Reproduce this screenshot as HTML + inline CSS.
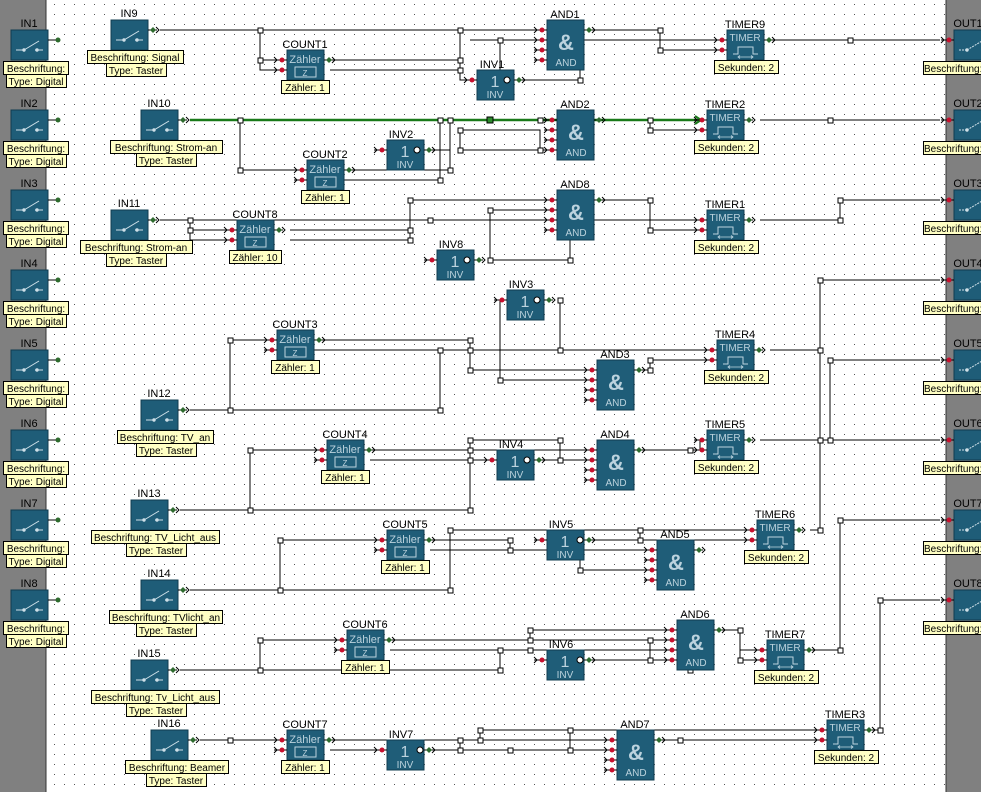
<!DOCTYPE html>
<html><head><meta charset="utf-8"><style>
html,body{margin:0;padding:0;background:#fff}
svg{display:block}
.b{fill:#1f5d78;stroke:#113c4f;stroke-width:1}
.w{stroke:#000;stroke-width:1;fill:none}
.j{fill:#fff;stroke:#000;stroke-width:1}
text{font-family:"Liberation Sans",sans-serif}
.n{font-size:11px;fill:#000;text-anchor:middle}
.l{font-size:10px;fill:#000;text-anchor:middle}
.y{fill:#ffffc4;stroke:#000;stroke-width:1}
.t{fill:#bcd3de;text-anchor:middle}
</style></head><body>
<svg width="981" height="792" viewBox="0 0 981 792" xmlns="http://www.w3.org/2000/svg">
<defs>
<pattern id="dots" width="10" height="10" patternUnits="userSpaceOnUse"><rect x="4" y="4" width="1" height="1" fill="#555"/></pattern>
<g id="pi"><path d="M-13,0H0" stroke="#000"/><path d="M-13,-3L-10,0L-13,3" stroke="#000" fill="none"/><circle cx="-5" cy="0" r="2.5" fill="#c8102e"/></g>
<g id="po"><path d="M0,0H9" stroke="#000"/><path d="M5,-3L8,0L5,3L2,0Z" fill="#2e6b2e"/><path d="M8,-3L11,0L8,3" stroke="#000" fill="none"/></g>
<g id="sw"><path d="M5,20H13M13,20L28,11M24,20H32" stroke="#cfe0e8" stroke-width="1" fill="none"/><circle cx="13" cy="20" r="1.7" fill="#cfe0e8"/><circle cx="26" cy="20" r="1.7" fill="#cfe0e8"/></g>
<g id="swo"><path d="M5,20H13M13,20L28,11M28,5V14" stroke="#cfe0e8" stroke-width="1" fill="none" stroke-dasharray="2,1"/><circle cx="13" cy="20" r="1.7" fill="#cfe0e8"/></g>
<g id="zb"><rect x="8" y="17" width="21" height="10" fill="none" stroke="#bcd3de"/></g>
<g id="tp"><path d="M6,24H11V17H26V24H31" stroke="#bcd3de" fill="none"/><path d="M11,27H26M13,25.5L11,27L13,28.5M24,25.5L26,27L24,28.5" stroke="#bcd3de" fill="none" stroke-width=".8"/></g>
</defs>
<rect width="981" height="792" fill="#fff"/>
<rect width="981" height="792" fill="url(#dots)"/>
<rect x="0" y="0" width="46" height="792" fill="#808080"/>
<rect x="946" y="0" width="35" height="792" fill="#808080"/>
<path d="M46,0V792M946,0V792" stroke="#333"/>

<g class="w">
<path d="M160,30H547M260,30V60H287M260,60V70H287M330,60H460M330,70H460V30M460,70V80H477M500,40V80H580V40M470,40H720M590,30H660V50H720M770,40H940"/>
<path d="M240,120V170H307M320,180H440V120M350,170H450V120M380,150H450M460,130H540V150M460,130V150H557M600,120H650V130H707M760,120H940"/>
<path d="M160,220H707M190,220V230H237M190,230V240H237M290,230H410M290,240H410V200H557M490,210H557M490,210V260H570V220M430,260H437M600,200H650V230H707M760,220H840V200H940"/>
<path d="M190,410H230M230,340H277M230,340V410H440V350M270,350H717M320,340H470V370H597M470,340V370M500,300V380H597M560,300V350M640,370H650V360H717M770,350H820V280H940"/>
<path d="M180,510H470V440M250,450H327M250,450V510M470,440H560V460M370,450H597M370,460H497M540,460H597M560,440V460M640,450H700V440H707M640,450H707M760,440H940M830,440V360H940"/>
<path d="M190,590H280M280,540H387M280,540V590H450V530M450,530H757M430,540H510V550M430,550H657M580,540H757M640,530V540M580,540V570H657M810,530H820V280M840,520H940M840,520V650H810"/>
<path d="M180,670H260M260,640H347M260,640V670H500V650M390,640H530V630H677M390,650H677M530,640H677M580,660H677M650,640V660M540,660H547M720,630H740V660H767M740,650H767M880,600H940M880,600V730H870"/>
<path d="M200,740H287M330,740H617M330,750H387M430,750H617M460,740V750M480,730V740M480,730H827M570,730V750M654,740H827"/>
</g>
<path d="M190,120H700" stroke="#1a7a1a" stroke-width="2.5"/>
<path d="M695,116L701,120L695,124" stroke="#1a7a1a" stroke-width="2" fill="none"/>
<rect x="487" y="117" width="6" height="6" fill="#2e8b2e" stroke="#000"/>

<g class="j">
<rect x="258" y="28" width="5" height="5"/><rect x="258" y="58" width="5" height="5"/><rect x="458" y="28" width="5" height="5"/><rect x="458" y="58" width="5" height="5"/><rect x="458" y="68" width="5" height="5"/><rect x="498" y="38" width="5" height="5"/><rect x="578" y="38" width="5" height="5"/><rect x="498" y="78" width="5" height="5"/><rect x="578" y="78" width="5" height="5"/><rect x="658" y="28" width="5" height="5"/><rect x="658" y="48" width="5" height="5"/><rect x="848" y="38" width="5" height="5"/>
<rect x="238" y="118" width="5" height="5"/><rect x="238" y="168" width="5" height="5"/><rect x="438" y="118" width="5" height="5"/><rect x="448" y="118" width="5" height="5"/><rect x="438" y="178" width="5" height="5"/><rect x="448" y="168" width="5" height="5"/><rect x="458" y="128" width="5" height="5"/><rect x="458" y="148" width="5" height="5"/><rect x="538" y="118" width="5" height="5"/><rect x="538" y="148" width="5" height="5"/><rect x="648" y="118" width="5" height="5"/><rect x="648" y="128" width="5" height="5"/><rect x="828" y="118" width="5" height="5"/>
<rect x="188" y="218" width="5" height="5"/><rect x="188" y="228" width="5" height="5"/><rect x="408" y="198" width="5" height="5"/><rect x="408" y="228" width="5" height="5"/><rect x="408" y="238" width="5" height="5"/><rect x="488" y="208" width="5" height="5"/><rect x="488" y="258" width="5" height="5"/><rect x="568" y="218" width="5" height="5"/><rect x="568" y="258" width="5" height="5"/><rect x="648" y="198" width="5" height="5"/><rect x="648" y="228" width="5" height="5"/><rect x="838" y="218" width="5" height="5"/><rect x="838" y="198" width="5" height="5"/><rect x="428" y="218" width="5" height="5"/>
<rect x="228" y="338" width="5" height="5"/><rect x="228" y="408" width="5" height="5"/><rect x="438" y="348" width="5" height="5"/><rect x="438" y="408" width="5" height="5"/><rect x="468" y="338" width="5" height="5"/><rect x="468" y="348" width="5" height="5"/><rect x="468" y="368" width="5" height="5"/><rect x="498" y="378" width="5" height="5"/><rect x="558" y="298" width="5" height="5"/><rect x="558" y="348" width="5" height="5"/><rect x="648" y="358" width="5" height="5"/><rect x="648" y="368" width="5" height="5"/><rect x="818" y="278" width="5" height="5"/><rect x="818" y="348" width="5" height="5"/><rect x="828" y="358" width="5" height="5"/>
<rect x="248" y="448" width="5" height="5"/><rect x="248" y="508" width="5" height="5"/><rect x="468" y="438" width="5" height="5"/><rect x="468" y="448" width="5" height="5"/><rect x="468" y="458" width="5" height="5"/><rect x="468" y="508" width="5" height="5"/><rect x="558" y="438" width="5" height="5"/><rect x="558" y="458" width="5" height="5"/><rect x="688" y="448" width="5" height="5"/><rect x="818" y="438" width="5" height="5"/><rect x="828" y="438" width="5" height="5"/>
<rect x="278" y="538" width="5" height="5"/><rect x="278" y="588" width="5" height="5"/><rect x="448" y="528" width="5" height="5"/><rect x="448" y="588" width="5" height="5"/><rect x="508" y="538" width="5" height="5"/><rect x="508" y="548" width="5" height="5"/><rect x="578" y="568" width="5" height="5"/><rect x="638" y="528" width="5" height="5"/><rect x="638" y="538" width="5" height="5"/><rect x="818" y="528" width="5" height="5"/><rect x="838" y="518" width="5" height="5"/>
<rect x="258" y="638" width="5" height="5"/><rect x="258" y="668" width="5" height="5"/><rect x="498" y="648" width="5" height="5"/><rect x="498" y="668" width="5" height="5"/><rect x="528" y="628" width="5" height="5"/><rect x="528" y="638" width="5" height="5"/><rect x="528" y="648" width="5" height="5"/><rect x="648" y="638" width="5" height="5"/><rect x="648" y="658" width="5" height="5"/><rect x="738" y="628" width="5" height="5"/><rect x="738" y="658" width="5" height="5"/><rect x="838" y="648" width="5" height="5"/><rect x="878" y="598" width="5" height="5"/><rect x="878" y="728" width="5" height="5"/><rect x="688" y="648" width="5" height="5"/><rect x="688" y="668" width="5" height="5"/>
<rect x="228" y="738" width="5" height="5"/><rect x="458" y="738" width="5" height="5"/><rect x="458" y="748" width="5" height="5"/><rect x="478" y="728" width="5" height="5"/><rect x="478" y="738" width="5" height="5"/><rect x="508" y="748" width="5" height="5"/><rect x="568" y="728" width="5" height="5"/><rect x="568" y="748" width="5" height="5"/><rect x="678" y="738" width="5" height="5"/>
</g>

<g>
<g transform="translate(11,30)"><rect class="b" width="37" height="30"/><use href="#sw"/><path d="M37,10H45" stroke="#000"/><circle cx="47" cy="10" r="2.5" fill="#2e6b2e"/><text class="n" x="18" y="-3">IN1</text></g>
<g transform="translate(11,110)"><rect class="b" width="37" height="30"/><use href="#sw"/><path d="M37,10H45" stroke="#000"/><circle cx="47" cy="10" r="2.5" fill="#2e6b2e"/><text class="n" x="18" y="-3">IN2</text></g>
<g transform="translate(11,190)"><rect class="b" width="37" height="30"/><use href="#sw"/><path d="M37,10H45" stroke="#000"/><circle cx="47" cy="10" r="2.5" fill="#2e6b2e"/><text class="n" x="18" y="-3">IN3</text></g>
<g transform="translate(11,270)"><rect class="b" width="37" height="30"/><use href="#sw"/><path d="M37,10H45" stroke="#000"/><circle cx="47" cy="10" r="2.5" fill="#2e6b2e"/><text class="n" x="18" y="-3">IN4</text></g>
<g transform="translate(11,350)"><rect class="b" width="37" height="30"/><use href="#sw"/><path d="M37,10H45" stroke="#000"/><circle cx="47" cy="10" r="2.5" fill="#2e6b2e"/><text class="n" x="18" y="-3">IN5</text></g>
<g transform="translate(11,430)"><rect class="b" width="37" height="30"/><use href="#sw"/><path d="M37,10H45" stroke="#000"/><circle cx="47" cy="10" r="2.5" fill="#2e6b2e"/><text class="n" x="18" y="-3">IN6</text></g>
<g transform="translate(11,510)"><rect class="b" width="37" height="30"/><use href="#sw"/><path d="M37,10H45" stroke="#000"/><circle cx="47" cy="10" r="2.5" fill="#2e6b2e"/><text class="n" x="18" y="-3">IN7</text></g>
<g transform="translate(11,590)"><rect class="b" width="37" height="30"/><use href="#sw"/><path d="M37,10H45" stroke="#000"/><circle cx="47" cy="10" r="2.5" fill="#2e6b2e"/><text class="n" x="18" y="-3">IN8</text></g>
</g>
<g>
<rect class="y" x="3.5" y="61.5" width="65" height="13"/><text class="l" x="36" y="72">Beschriftung:</text><rect class="y" x="6.5" y="74.5" width="60" height="13"/><text class="l" x="36" y="85">Type: Digital</text>
<rect class="y" x="3.5" y="141.5" width="65" height="13"/><text class="l" x="36" y="152">Beschriftung:</text><rect class="y" x="6.5" y="154.5" width="60" height="13"/><text class="l" x="36" y="165">Type: Digital</text>
<rect class="y" x="3.5" y="221.5" width="65" height="13"/><text class="l" x="36" y="232">Beschriftung:</text><rect class="y" x="6.5" y="234.5" width="60" height="13"/><text class="l" x="36" y="245">Type: Digital</text>
<rect class="y" x="3.5" y="301.5" width="65" height="13"/><text class="l" x="36" y="312">Beschriftung:</text><rect class="y" x="6.5" y="314.5" width="60" height="13"/><text class="l" x="36" y="325">Type: Digital</text>
<rect class="y" x="3.5" y="381.5" width="65" height="13"/><text class="l" x="36" y="392">Beschriftung:</text><rect class="y" x="6.5" y="394.5" width="60" height="13"/><text class="l" x="36" y="405">Type: Digital</text>
<rect class="y" x="3.5" y="461.5" width="65" height="13"/><text class="l" x="36" y="472">Beschriftung:</text><rect class="y" x="6.5" y="474.5" width="60" height="13"/><text class="l" x="36" y="485">Type: Digital</text>
<rect class="y" x="3.5" y="541.5" width="65" height="13"/><text class="l" x="36" y="552">Beschriftung:</text><rect class="y" x="6.5" y="554.5" width="60" height="13"/><text class="l" x="36" y="565">Type: Digital</text>
<rect class="y" x="3.5" y="621.5" width="65" height="13"/><text class="l" x="36" y="632">Beschriftung:</text><rect class="y" x="6.5" y="634.5" width="60" height="13"/><text class="l" x="36" y="645">Type: Digital</text>
</g>

<g>
<g transform="translate(954,30)"><rect class="b" width="37" height="30"/><use href="#swo"/><use href="#pi" x="0" y="10"/><text class="n" x="14" y="-3">OUT1</text></g>
<g transform="translate(954,110)"><rect class="b" width="37" height="30"/><use href="#swo"/><use href="#pi" x="0" y="10"/><text class="n" x="14" y="-3">OUT2</text></g>
<g transform="translate(954,190)"><rect class="b" width="37" height="30"/><use href="#swo"/><use href="#pi" x="0" y="10"/><text class="n" x="14" y="-3">OUT3</text></g>
<g transform="translate(954,270)"><rect class="b" width="37" height="30"/><use href="#swo"/><use href="#pi" x="0" y="10"/><text class="n" x="14" y="-3">OUT4</text></g>
<g transform="translate(954,350)"><rect class="b" width="37" height="30"/><use href="#swo"/><use href="#pi" x="0" y="10"/><text class="n" x="14" y="-3">OUT5</text></g>
<g transform="translate(954,430)"><rect class="b" width="37" height="30"/><use href="#swo"/><use href="#pi" x="0" y="10"/><text class="n" x="14" y="-3">OUT6</text></g>
<g transform="translate(954,510)"><rect class="b" width="37" height="30"/><use href="#swo"/><use href="#pi" x="0" y="10"/><text class="n" x="14" y="-3">OUT7</text></g>
<g transform="translate(954,590)"><rect class="b" width="37" height="30"/><use href="#swo"/><use href="#pi" x="0" y="10"/><text class="n" x="14" y="-3">OUT8</text></g>
<rect class="y" x="923.5" y="61.5" width="66" height="13"/><text class="l" x="924" y="72" style="text-anchor:start">Beschriftung:</text>
<rect class="y" x="923.5" y="141.5" width="66" height="13"/><text class="l" x="924" y="152" style="text-anchor:start">Beschriftung:</text>
<rect class="y" x="923.5" y="221.5" width="66" height="13"/><text class="l" x="924" y="232" style="text-anchor:start">Beschriftung:</text>
<rect class="y" x="923.5" y="301.5" width="66" height="13"/><text class="l" x="924" y="312" style="text-anchor:start">Beschriftung:</text>
<rect class="y" x="923.5" y="381.5" width="66" height="13"/><text class="l" x="924" y="392" style="text-anchor:start">Beschriftung:</text>
<rect class="y" x="923.5" y="461.5" width="66" height="13"/><text class="l" x="924" y="472" style="text-anchor:start">Beschriftung:</text>
<rect class="y" x="923.5" y="541.5" width="66" height="13"/><text class="l" x="924" y="552" style="text-anchor:start">Beschriftung:</text>
<rect class="y" x="923.5" y="621.5" width="66" height="13"/><text class="l" x="924" y="632" style="text-anchor:start">Beschriftung:</text>
</g>

<g>
<g transform="translate(111,20)"><rect class="b" width="37" height="30"/><use href="#sw"/><use href="#po" x="37" y="10"/><text class="n" x="18" y="-3">IN9</text></g>
<rect class="y" x="87.5" y="50.5" width="96" height="13"/><text class="l" x="135" y="61">Beschriftung: Signal</text><rect class="y" x="106.5" y="63.5" width="60" height="13"/><text class="l" x="136" y="74">Type: Taster</text>
<g transform="translate(141,110)"><rect class="b" width="37" height="30"/><use href="#sw"/><use href="#po" x="37" y="10"/><text class="n" x="18" y="-3">IN10</text></g>
<rect class="y" x="110.5" y="140.5" width="112" height="13"/><text class="l" x="166" y="151">Beschriftung: Strom-an</text><rect class="y" x="136.5" y="153.5" width="60" height="13"/><text class="l" x="166" y="164">Type: Taster</text>
<g transform="translate(111,210)"><rect class="b" width="37" height="30"/><use href="#sw"/><use href="#po" x="37" y="10"/><text class="n" x="18" y="-3">IN11</text></g>
<rect class="y" x="80.5" y="240.5" width="112" height="13"/><text class="l" x="136" y="251">Beschriftung: Strom-an</text><rect class="y" x="106.5" y="253.5" width="60" height="13"/><text class="l" x="136" y="264">Type: Taster</text>
<g transform="translate(141,400)"><rect class="b" width="37" height="30"/><use href="#sw"/><use href="#po" x="37" y="10"/><text class="n" x="18" y="-3">IN12</text></g>
<rect class="y" x="117.5" y="430.5" width="96" height="13"/><text class="l" x="165" y="441">Beschriftung: TV_an</text><rect class="y" x="136.5" y="443.5" width="60" height="13"/><text class="l" x="166" y="454">Type: Taster</text>
<g transform="translate(131,500)"><rect class="b" width="37" height="30"/><use href="#sw"/><use href="#po" x="37" y="10"/><text class="n" x="18" y="-3">IN13</text></g>
<rect class="y" x="91.5" y="530.5" width="128" height="13"/><text class="l" x="155" y="541">Beschriftung: TV_Licht_aus</text><rect class="y" x="126.5" y="543.5" width="60" height="13"/><text class="l" x="156" y="554">Type: Taster</text>
<g transform="translate(141,580)"><rect class="b" width="37" height="30"/><use href="#sw"/><use href="#po" x="37" y="10"/><text class="n" x="18" y="-3">IN14</text></g>
<rect class="y" x="109.5" y="610.5" width="113" height="13"/><text class="l" x="166" y="621">Beschriftung: TVlicht_an</text><rect class="y" x="136.5" y="623.5" width="60" height="13"/><text class="l" x="166" y="634">Type: Taster</text>
<g transform="translate(131,660)"><rect class="b" width="37" height="30"/><use href="#sw"/><use href="#po" x="37" y="10"/><text class="n" x="18" y="-3">IN15</text></g>
<rect class="y" x="91.5" y="690.5" width="128" height="13"/><text class="l" x="155" y="701">Beschriftung: Tv_Licht_aus</text><rect class="y" x="126.5" y="703.5" width="60" height="13"/><text class="l" x="156" y="714">Type: Taster</text>
<g transform="translate(151,730)"><rect class="b" width="37" height="30"/><use href="#sw"/><use href="#po" x="37" y="10"/><text class="n" x="18" y="-3">IN16</text></g>
<rect class="y" x="125.5" y="760.5" width="103" height="13"/><text class="l" x="177" y="771">Beschriftung: Beamer</text><rect class="y" x="146.5" y="773.5" width="60" height="13"/><text class="l" x="176" y="784">Type: Taster</text>
</g>

<g>
<g transform="translate(287,50)"><rect class="b" width="37" height="30"/><text class="t" x="18" y="13" font-size="11">Zähler</text><use href="#zb"/><text class="t" x="18" y="26" font-size="8">Z</text><use href="#pi" x="0" y="10"/><use href="#pi" x="0" y="20"/><use href="#po" x="37" y="10"/><text class="n" x="18" y="-2">COUNT1</text><rect class="y" x="-5.5" y="30.5" width="48" height="13"/><text class="l" x="18" y="41">Zähler: 1</text></g>
<g transform="translate(307,160)"><rect class="b" width="37" height="30"/><text class="t" x="18" y="13" font-size="11">Zähler</text><use href="#zb"/><text class="t" x="18" y="26" font-size="8">Z</text><use href="#pi" x="0" y="10"/><use href="#pi" x="0" y="20"/><use href="#po" x="37" y="10"/><text class="n" x="18" y="-2">COUNT2</text><rect class="y" x="-5.5" y="30.5" width="48" height="13"/><text class="l" x="18" y="41">Zähler: 1</text></g>
<g transform="translate(237,220)"><rect class="b" width="37" height="30"/><text class="t" x="18" y="13" font-size="11">Zähler</text><use href="#zb"/><text class="t" x="18" y="26" font-size="8">Z</text><use href="#pi" x="0" y="10"/><use href="#pi" x="0" y="20"/><use href="#po" x="37" y="10"/><text class="n" x="18" y="-2">COUNT8</text><rect class="y" x="-7.5" y="30.5" width="52" height="13"/><text class="l" x="18" y="41">Zähler: 10</text></g>
<g transform="translate(277,330)"><rect class="b" width="37" height="30"/><text class="t" x="18" y="13" font-size="11">Zähler</text><use href="#zb"/><text class="t" x="18" y="26" font-size="8">Z</text><use href="#pi" x="0" y="10"/><use href="#pi" x="0" y="20"/><use href="#po" x="37" y="10"/><text class="n" x="18" y="-2">COUNT3</text><rect class="y" x="-5.5" y="30.5" width="48" height="13"/><text class="l" x="18" y="41">Zähler: 1</text></g>
<g transform="translate(327,440)"><rect class="b" width="37" height="30"/><text class="t" x="18" y="13" font-size="11">Zähler</text><use href="#zb"/><text class="t" x="18" y="26" font-size="8">Z</text><use href="#pi" x="0" y="10"/><use href="#pi" x="0" y="20"/><use href="#po" x="37" y="10"/><text class="n" x="18" y="-2">COUNT4</text><rect class="y" x="-5.5" y="30.5" width="48" height="13"/><text class="l" x="18" y="41">Zähler: 1</text></g>
<g transform="translate(387,530)"><rect class="b" width="37" height="30"/><text class="t" x="18" y="13" font-size="11">Zähler</text><use href="#zb"/><text class="t" x="18" y="26" font-size="8">Z</text><use href="#pi" x="0" y="10"/><use href="#pi" x="0" y="20"/><use href="#po" x="37" y="10"/><text class="n" x="18" y="-2">COUNT5</text><rect class="y" x="-5.5" y="30.5" width="48" height="13"/><text class="l" x="18" y="41">Zähler: 1</text></g>
<g transform="translate(347,630)"><rect class="b" width="37" height="30"/><text class="t" x="18" y="13" font-size="11">Zähler</text><use href="#zb"/><text class="t" x="18" y="26" font-size="8">Z</text><use href="#pi" x="0" y="10"/><use href="#pi" x="0" y="20"/><use href="#po" x="37" y="10"/><text class="n" x="18" y="-2">COUNT6</text><rect class="y" x="-5.5" y="30.5" width="48" height="13"/><text class="l" x="18" y="41">Zähler: 1</text></g>
<g transform="translate(287,730)"><rect class="b" width="37" height="30"/><text class="t" x="18" y="13" font-size="11">Zähler</text><use href="#zb"/><text class="t" x="18" y="26" font-size="8">Z</text><use href="#pi" x="0" y="10"/><use href="#pi" x="0" y="20"/><use href="#po" x="37" y="10"/><text class="n" x="18" y="-2">COUNT7</text><rect class="y" x="-5.5" y="30.5" width="48" height="13"/><text class="l" x="18" y="41">Zähler: 1</text></g>
</g>

<g>
<g transform="translate(547,20)"><rect class="b" width="37" height="50"/><text class="t" x="19" y="30" font-size="22" font-weight="bold">&amp;</text><text class="t" x="19" y="46" font-size="10">AND</text><use href="#pi" x="0" y="10"/><use href="#pi" x="0" y="20"/><use href="#pi" x="0" y="30"/><use href="#pi" x="0" y="40"/><use href="#po" x="37" y="10"/><text class="n" x="18" y="-2">AND1</text></g>
<g transform="translate(557,110)"><rect class="b" width="37" height="50"/><text class="t" x="19" y="30" font-size="22" font-weight="bold">&amp;</text><text class="t" x="19" y="46" font-size="10">AND</text><use href="#pi" x="0" y="10"/><use href="#pi" x="0" y="20"/><use href="#pi" x="0" y="30"/><use href="#pi" x="0" y="40"/><use href="#po" x="37" y="10"/><text class="n" x="18" y="-2">AND2</text></g>
<g transform="translate(557,190)"><rect class="b" width="37" height="50"/><text class="t" x="19" y="30" font-size="22" font-weight="bold">&amp;</text><text class="t" x="19" y="46" font-size="10">AND</text><use href="#pi" x="0" y="10"/><use href="#pi" x="0" y="20"/><use href="#pi" x="0" y="30"/><use href="#pi" x="0" y="40"/><use href="#po" x="37" y="10"/><text class="n" x="18" y="-2">AND8</text></g>
<g transform="translate(597,360)"><rect class="b" width="37" height="50"/><text class="t" x="19" y="30" font-size="22" font-weight="bold">&amp;</text><text class="t" x="19" y="46" font-size="10">AND</text><use href="#pi" x="0" y="10"/><use href="#pi" x="0" y="20"/><use href="#pi" x="0" y="30"/><use href="#pi" x="0" y="40"/><use href="#po" x="37" y="10"/><text class="n" x="18" y="-2">AND3</text></g>
<g transform="translate(597,440)"><rect class="b" width="37" height="50"/><text class="t" x="19" y="30" font-size="22" font-weight="bold">&amp;</text><text class="t" x="19" y="46" font-size="10">AND</text><use href="#pi" x="0" y="10"/><use href="#pi" x="0" y="20"/><use href="#pi" x="0" y="30"/><use href="#pi" x="0" y="40"/><use href="#po" x="37" y="10"/><text class="n" x="18" y="-2">AND4</text></g>
<g transform="translate(657,540)"><rect class="b" width="37" height="50"/><text class="t" x="19" y="30" font-size="22" font-weight="bold">&amp;</text><text class="t" x="19" y="46" font-size="10">AND</text><use href="#pi" x="0" y="10"/><use href="#pi" x="0" y="20"/><use href="#pi" x="0" y="30"/><use href="#pi" x="0" y="40"/><use href="#po" x="37" y="10"/><text class="n" x="18" y="-2">AND5</text></g>
<g transform="translate(677,620)"><rect class="b" width="37" height="50"/><text class="t" x="19" y="30" font-size="22" font-weight="bold">&amp;</text><text class="t" x="19" y="46" font-size="10">AND</text><use href="#pi" x="0" y="10"/><use href="#pi" x="0" y="20"/><use href="#pi" x="0" y="30"/><use href="#pi" x="0" y="40"/><use href="#po" x="37" y="10"/><text class="n" x="18" y="-2">AND6</text></g>
<g transform="translate(617,730)"><rect class="b" width="37" height="50"/><text class="t" x="19" y="30" font-size="22" font-weight="bold">&amp;</text><text class="t" x="19" y="46" font-size="10">AND</text><use href="#pi" x="0" y="10"/><use href="#pi" x="0" y="20"/><use href="#pi" x="0" y="30"/><use href="#pi" x="0" y="40"/><use href="#po" x="37" y="10"/><text class="n" x="18" y="-2">AND7</text></g>
</g>

<g>
<g transform="translate(477,70)"><rect class="b" width="37" height="30"/><text class="t" x="18" y="17" font-size="16">1</text><text class="t" x="18" y="28" font-size="10">INV</text><use href="#pi" x="0" y="10"/><circle cx="30" cy="10" r="3" fill="#fff" stroke="#000"/><use href="#po" x="37" y="10"/><text class="n" x="15" y="-2">INV1</text></g>
<g transform="translate(387,140)"><rect class="b" width="37" height="30"/><text class="t" x="18" y="17" font-size="16">1</text><text class="t" x="18" y="28" font-size="10">INV</text><use href="#pi" x="0" y="10"/><circle cx="30" cy="10" r="3" fill="#fff" stroke="#000"/><use href="#po" x="37" y="10"/><text class="n" x="14" y="-2">INV2</text></g>
<g transform="translate(437,250)"><rect class="b" width="37" height="30"/><text class="t" x="18" y="17" font-size="16">1</text><text class="t" x="18" y="28" font-size="10">INV</text><use href="#pi" x="0" y="10"/><circle cx="30" cy="10" r="3" fill="#fff" stroke="#000"/><use href="#po" x="37" y="10"/><text class="n" x="14" y="-2">INV8</text></g>
<g transform="translate(507,290)"><rect class="b" width="37" height="30"/><text class="t" x="18" y="17" font-size="16">1</text><text class="t" x="18" y="28" font-size="10">INV</text><use href="#pi" x="0" y="10"/><circle cx="30" cy="10" r="3" fill="#fff" stroke="#000"/><use href="#po" x="37" y="10"/><text class="n" x="14" y="-2">INV3</text></g>
<g transform="translate(497,450)"><rect class="b" width="37" height="30"/><text class="t" x="18" y="17" font-size="16">1</text><text class="t" x="18" y="28" font-size="10">INV</text><use href="#pi" x="0" y="10"/><circle cx="30" cy="10" r="3" fill="#fff" stroke="#000"/><use href="#po" x="37" y="10"/><text class="n" x="14" y="-2">INV4</text></g>
<g transform="translate(547,530)"><rect class="b" width="37" height="30"/><text class="t" x="18" y="17" font-size="16">1</text><text class="t" x="18" y="28" font-size="10">INV</text><use href="#pi" x="0" y="10"/><circle cx="33" cy="10" r="3" fill="#fff" stroke="#000"/><use href="#po" x="37" y="10"/><text class="n" x="14" y="-2">INV5</text></g>
<g transform="translate(547,650)"><rect class="b" width="37" height="30"/><text class="t" x="18" y="17" font-size="16">1</text><text class="t" x="18" y="28" font-size="10">INV</text><use href="#pi" x="0" y="10"/><circle cx="33" cy="10" r="3" fill="#fff" stroke="#000"/><use href="#po" x="37" y="10"/><text class="n" x="14" y="-2">INV6</text></g>
<g transform="translate(387,740)"><rect class="b" width="37" height="30"/><text class="t" x="18" y="17" font-size="16">1</text><text class="t" x="18" y="28" font-size="10">INV</text><use href="#pi" x="0" y="10"/><circle cx="33" cy="10" r="3" fill="#fff" stroke="#000"/><use href="#po" x="37" y="10"/><text class="n" x="14" y="-2">INV7</text></g>
</g>

<g>
<g transform="translate(727,30)"><rect class="b" width="37" height="30"/><text class="t" x="18" y="11" font-size="10">TIMER</text><use href="#tp"/><use href="#pi" x="0" y="10"/><use href="#pi" x="0" y="20"/><use href="#po" x="37" y="10"/><text class="n" x="18" y="-2">TIMER9</text><rect class="y" x="-12.5" y="30.5" width="64" height="13"/><text class="l" x="19" y="41">Sekunden: 2</text></g>
<g transform="translate(707,110)"><rect class="b" width="37" height="30"/><text class="t" x="18" y="11" font-size="10">TIMER</text><use href="#tp"/><use href="#pi" x="0" y="10"/><use href="#pi" x="0" y="20"/><use href="#po" x="37" y="10"/><text class="n" x="18" y="-2">TIMER2</text><rect class="y" x="-12.5" y="30.5" width="64" height="13"/><text class="l" x="19" y="41">Sekunden: 2</text></g>
<g transform="translate(707,210)"><rect class="b" width="37" height="30"/><text class="t" x="18" y="11" font-size="10">TIMER</text><use href="#tp"/><use href="#pi" x="0" y="10"/><use href="#pi" x="0" y="20"/><use href="#po" x="37" y="10"/><text class="n" x="18" y="-2">TIMER1</text><rect class="y" x="-12.5" y="30.5" width="64" height="13"/><text class="l" x="19" y="41">Sekunden: 2</text></g>
<g transform="translate(717,340)"><rect class="b" width="37" height="30"/><text class="t" x="18" y="11" font-size="10">TIMER</text><use href="#tp"/><use href="#pi" x="0" y="10"/><use href="#pi" x="0" y="20"/><use href="#po" x="37" y="10"/><text class="n" x="18" y="-2">TIMER4</text><rect class="y" x="-12.5" y="30.5" width="64" height="13"/><text class="l" x="19" y="41">Sekunden: 2</text></g>
<g transform="translate(707,430)"><rect class="b" width="37" height="30"/><text class="t" x="18" y="11" font-size="10">TIMER</text><use href="#tp"/><use href="#pi" x="0" y="10"/><use href="#pi" x="0" y="20"/><use href="#po" x="37" y="10"/><text class="n" x="18" y="-2">TIMER5</text><rect class="y" x="-12.5" y="30.5" width="64" height="13"/><text class="l" x="19" y="41">Sekunden: 2</text></g>
<g transform="translate(757,520)"><rect class="b" width="37" height="30"/><text class="t" x="18" y="11" font-size="10">TIMER</text><use href="#tp"/><use href="#pi" x="0" y="10"/><use href="#pi" x="0" y="20"/><use href="#po" x="37" y="10"/><text class="n" x="18" y="-2">TIMER6</text><rect class="y" x="-12.5" y="30.5" width="64" height="13"/><text class="l" x="19" y="41">Sekunden: 2</text></g>
<g transform="translate(767,640)"><rect class="b" width="37" height="30"/><text class="t" x="18" y="11" font-size="10">TIMER</text><use href="#tp"/><use href="#pi" x="0" y="10"/><use href="#pi" x="0" y="20"/><use href="#po" x="37" y="10"/><text class="n" x="18" y="-2">TIMER7</text><rect class="y" x="-12.5" y="30.5" width="64" height="13"/><text class="l" x="19" y="41">Sekunden: 2</text></g>
<g transform="translate(827,720)"><rect class="b" width="37" height="30"/><text class="t" x="18" y="11" font-size="10">TIMER</text><use href="#tp"/><use href="#pi" x="0" y="10"/><use href="#pi" x="0" y="20"/><use href="#po" x="37" y="10"/><text class="n" x="18" y="-2">TIMER3</text><rect class="y" x="-12.5" y="30.5" width="64" height="13"/><text class="l" x="19" y="41">Sekunden: 2</text></g>
</g>
</svg>
</body></html>
